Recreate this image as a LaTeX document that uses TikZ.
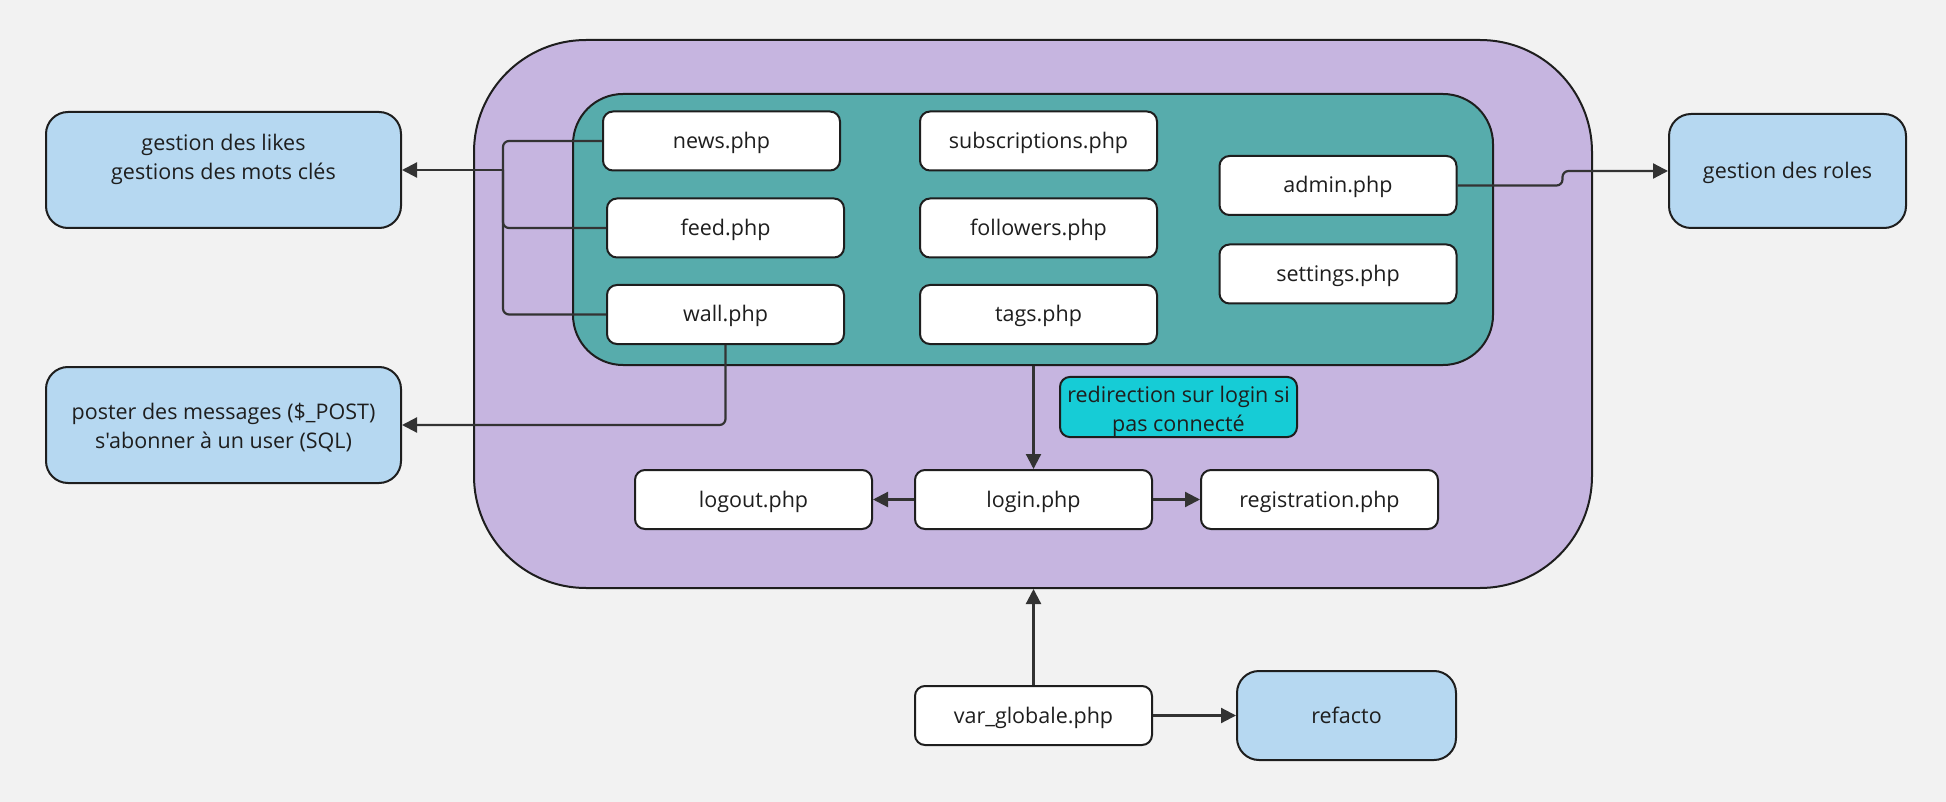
\documentclass[tikz,border=0pt]{standalone}
\usepackage{fontspec}
\setmainfont{Open Sans}
\newfontfamily\osfont{Open Sans}
\usetikzlibrary{arrows.meta}
\definecolor{bg}{HTML}{F2F2F2}
\definecolor{purp}{HTML}{C6B5E0}
\definecolor{teal2}{HTML}{57ACAC}
\definecolor{lblue}{HTML}{B6D8F1}
\definecolor{cyan2}{HTML}{16CCD6}
\definecolor{edge}{HTML}{1E1E1E}
\definecolor{wire}{HTML}{333333}
\newcommand\topstrut[1]{\rule{0pt}{#1}}
\tikzset{
  page/.style={draw=edge,line width=2pt,fill=white,rounded corners=10pt,
    minimum width=237pt,minimum height=59pt,inner sep=0pt,align=center,
    text height=18pt,text depth=3pt,
    font=\osfont\fontsize{21.5}{29}\selectfont,text=edge},
  multi/.style={text height={},text depth={}},
  infobox/.style={page,fill=lblue,rounded corners=22pt},
  notebox/.style={page,fill=cyan2,rounded corners=10pt},
  conn/.style={draw=wire,line width=2.2pt,rounded corners=6pt},
  arr/.style={conn,-{Triangle[length=15pt,width=15pt]}},
}
\begin{document}
\begin{tikzpicture}[x=1pt,y=-1pt]
\useasboundingbox[fill=bg] (0,0) rectangle (1946,802);
% containers
\node[draw=edge,line width=2pt,fill=purp,rounded corners=112pt,
  minimum width=1118pt,minimum height=548pt,inner sep=0pt] (outer) at (1033,314) {};
\node[draw=edge,line width=2pt,fill=teal2,rounded corners=50pt,
  minimum width=920pt,minimum height=271pt,inner sep=0pt] (teal) at (1033,229.5) {};
% pages
\node[page] (news) at (721.5,141) {news.php};
\node[page] (feed) at (725.5,228) {feed.php};
\node[page] (wall) at (725.5,314.5) {wall.php};
\node[page] (subs) at (1038.5,141) {subscriptions.php};
\node[page] (foll) at (1038.5,228) {followers.php};
\node[page] (tags) at (1038.5,314.5) {tags.php};
\node[page] (admin) at (1338,185.5) {admin.php};
\node[page] (settings) at (1338,274) {settings.php};
\node[notebox,multi,minimum height=60pt] (redir) at (1178.5,407)
  {\topstrut{26pt}redirection sur login si\\pas connecté};
\node[page] (logout) at (753.5,499.5) {logout.php};
\node[page] (login) at (1033.5,499.5) {login.php};
\node[page] (reg) at (1319.5,499.5) {registration.php};
\node[page] (var) at (1033.5,715.5) {var\_globale.php};
% info boxes
\node[infobox,multi,minimum width=355pt,minimum height=116pt] (likes) at (223.5,170)
  {\topstrut{19pt}gestion des likes\\gestions des mots clés\\\mbox{}};
\node[infobox,multi,minimum width=355pt,minimum height=116pt] (poster) at (223.5,425)
  {\topstrut{21pt}poster des messages (\$\_POST)\\s'abonner à un user (SQL)};
\node[infobox,minimum width=237pt,minimum height=114pt] (roles) at (1787.5,171) {gestion des roles};
\node[infobox,minimum width=219pt,minimum height=89pt] (refacto) at (1346.5,715.5) {refacto};
% connectors
\coordinate (j) at (503,170);
\draw[conn] (news.west) -| (j);
\draw[conn] (feed.west) -| (j);
\draw[conn] (wall.west) -| (j);
\draw[arr] (j) -- (likes.east);
\draw[arr] (wall.south) |- (poster.east);
\draw[arr] (admin.east) -- ++(105,0) |- (roles.west);
\draw[arr] (login.north |- teal.south) -- (login.north);
\draw[arr] (login.west) -- (logout.east);
\draw[arr] (login.east) -- (reg.west);
\draw[arr] (var.north) -- (var.north |- outer.south);
\draw[arr] (var.east) -- (refacto.west);
\end{tikzpicture}
\end{document}
